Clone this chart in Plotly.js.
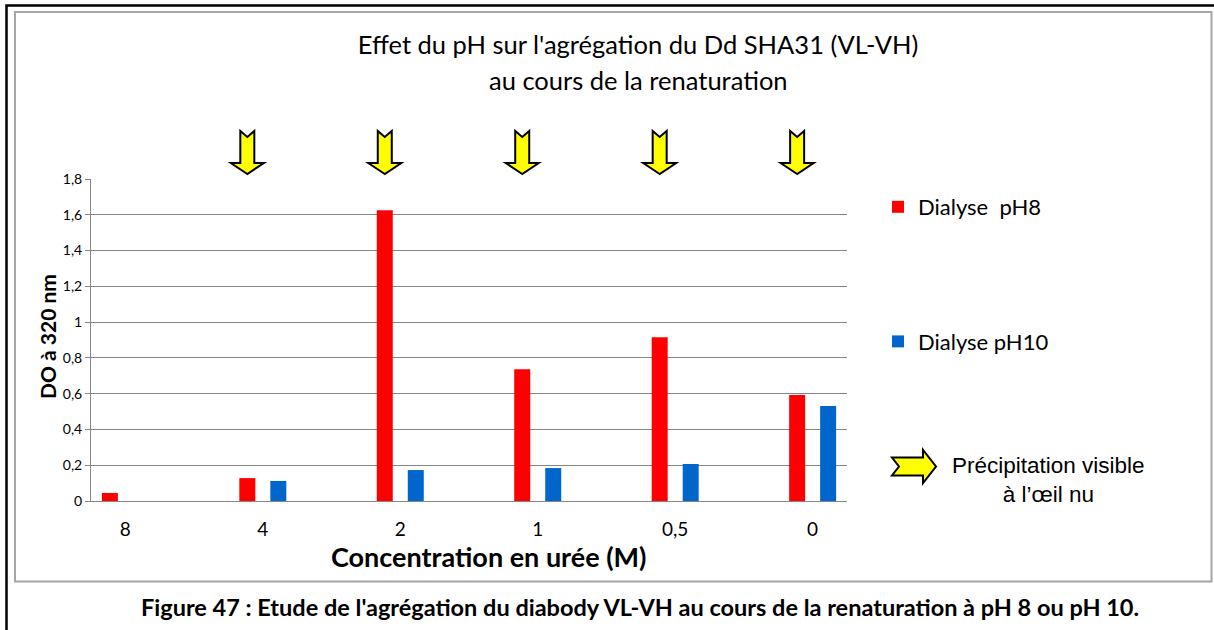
<!DOCTYPE html>
<html>
<head>
<meta charset="utf-8">
<script src="https://cdn.plot.ly/plotly-3.0.1.min.js"></script>
<style>
  html, body { margin: 0; padding: 0; background: #fff; }
  #chart { width: 1214px; height: 630px; }
</style>
</head>
<body>
<div id="chart"></div>
<script>
// Urea concentration steps during renaturation (M)
const categories = ['8', '4', '2', '1', '0,5', '0'];
// Optical density at 320 nm after dialysis
const ph8Values  = [0.045, 0.128, 1.626, 0.737, 0.916, 0.592];
const ph10Values = [null, 0.112, 0.173, 0.184, 0.207, 0.531];
// Steps where a precipitate was visible by eye (pH 8 dialysis)
const precipitation = [false, true, true, true, true, true];
const yTicks = [0, 0.2, 0.4, 0.6, 0.8, 1, 1.2, 1.4, 1.6, 1.8];

const seriesNames = ['Dialyse\u00a0 pH8', 'Dialyse pH10'];
const titleLines = ["Effet du pH sur l'agrégation du Dd SHA31 (VL-VH)", 'au cours de la renaturation'];
const xTitle = 'Concentration en urée (M)';
const yTitle = 'DO à 320 nm';
const precipLabel = 'Précipitation visible<br>à l’œil nu';
const caption = "Figure 47 : Etude de l'agrégation du diabody VL-VH au cours de la renaturation à pH 8 ou pH 10.";

const W = 1214, H = 630;
const M = { l: 91, r: 367, t: 179, b: 129 };
const PW = W - M.l - M.r, PH = H - M.t - M.b;
// pixel -> paper coordinates for the decorations around the plot
const px = x => (x - M.l) / PW;
const py = y => (H - M.b - y) / PH;

const FONT = 'Lato, "Open Sans", sans-serif';

const traces = [
  {
    type: 'bar', name: seriesNames[0], x: categories, y: ph8Values,
    marker: { color: '#ff0000' }, legendgroup: 'a', hoverinfo: 'x+y'
  },
  {
    type: 'bar', name: seriesNames[1], x: categories, y: ph10Values,
    marker: { color: '#0066cc' }, legendgroup: 'b', hoverinfo: 'x+y'
  }
];

// Yellow down arrows above the pH 8 bars where precipitation was seen
const downArrow = 'M -15.5 5 L -32 16 L -22.5 16 L -22.5 48 L -15.5 42 L -8.5 48 L -8.5 16 L 1 16 Z';
const shapes = [];
categories.forEach((c, i) => {
  if (!precipitation[i]) return;
  shapes.push({
    type: 'path', xref: 'x', yref: 'paper',
    xsizemode: 'pixel', ysizemode: 'pixel',
    xanchor: i, yanchor: 1,
    path: downArrow,
    fillcolor: '#ffff00', line: { color: '#000', width: 2 }, layer: 'above'
  });
});

// Right arrow used as the key for the precipitation marks
shapes.push({
  type: 'path', xref: 'paper', yref: 'paper',
  xsizemode: 'pixel', ysizemode: 'pixel',
  xanchor: px(892), yanchor: py(466.5),
  path: 'M 0 9 L 31 9 L 31 16.5 L 44 0 L 31 -16.5 L 31 -9 L 0 -9 L 7 0 Z',
  fillcolor: '#ffff00', line: { color: '#000', width: 2 }
});

// Outer page frame and chart border
shapes.push({
  type: 'rect', xref: 'paper', yref: 'paper',
  x0: px(6.5), x1: px(1230), y0: py(5.5), y1: py(650),
  line: { color: '#000', width: 2.5 }, fillcolor: 'rgba(0,0,0,0)', layer: 'below'
});
shapes.push({
  type: 'rect', xref: 'paper', yref: 'paper',
  x0: px(15), x1: px(1211.5), y0: py(12), y1: py(581.5),
  line: { color: '#a6a6a6', width: 2 }, fillcolor: 'rgba(0,0,0,0)', layer: 'below'
});

const centered = { showarrow: false, xref: 'paper', yref: 'paper', xanchor: 'center', yanchor: 'middle' };
const annotations = [
  Object.assign({}, centered, {
    text: titleLines[1], x: px(638), y: py(80),
    font: { family: FONT, size: 25.5, color: '#000' }
  }),
  Object.assign({}, centered, {
    text: xTitle, x: px(489), y: py(556),
    font: { family: FONT, size: 27, color: '#000', weight: 'bold' }
  }),
  Object.assign({}, centered, {
    text: yTitle, x: px(47), y: py(337), textangle: -90,
    font: { family: FONT, size: 21, color: '#000', weight: 'bold' }
  }),
  Object.assign({}, centered, {
    text: precipLabel, x: px(1048), y: py(480), align: 'center',
    font: { family: '"Liberation Sans", Arial, sans-serif', size: 22.5, color: '#000' }
  }),
  Object.assign({}, centered, {
    text: caption, x: px(640), y: py(607),
    font: { family: FONT, size: 23.5, color: '#000', weight: 'bold' }
  })
];

const layout = {
  width: W, height: H,
  margin: M,
  paper_bgcolor: '#fff', plot_bgcolor: '#fff',
  separators: ', ',
  font: { family: FONT, color: '#000' },
  title: {
    text: titleLines[0],
    font: { family: FONT, size: 25.5, color: '#000' },
    x: 638 / W, xanchor: 'center', xref: 'container',
    y: 1 - 45 / H, yanchor: 'middle', yref: 'container'
  },
  barmode: 'group',
  bargap: 0.549,
  bargroupgap: 0.484,
  showlegend: true,
  legend: {
    x: px(878), y: py(186), xanchor: 'left', yanchor: 'top',
    font: { family: FONT, size: 22, color: '#000' },
    traceorder: 'grouped', tracegroupgap: 103, bgcolor: 'rgba(0,0,0,0)'
  },
  xaxis: {
    type: 'category', range: [-0.25, 5.25],
    showline: true, linecolor: '#868686', linewidth: 1,
    showgrid: false, zeroline: false, ticks: '',
    ticklabelstandoff: 11,
    tickfont: { family: FONT, size: 19, color: '#000' },
    fixedrange: true
  },
  yaxis: {
    range: [0, 1.8], tickvals: yTicks,
    showline: true, linecolor: '#868686', linewidth: 1,
    showgrid: true, gridcolor: '#868686', gridwidth: 1,
    zeroline: false, ticks: 'outside', ticklen: 5, tickcolor: '#868686',
    tickfont: { family: FONT, size: 14, color: '#000' },
    fixedrange: true
  },
  shapes: shapes,
  annotations: annotations
};

Plotly.newPlot('chart', traces, layout, { displayModeBar: false, staticPlot: true });
</script>
</body>
</html>
